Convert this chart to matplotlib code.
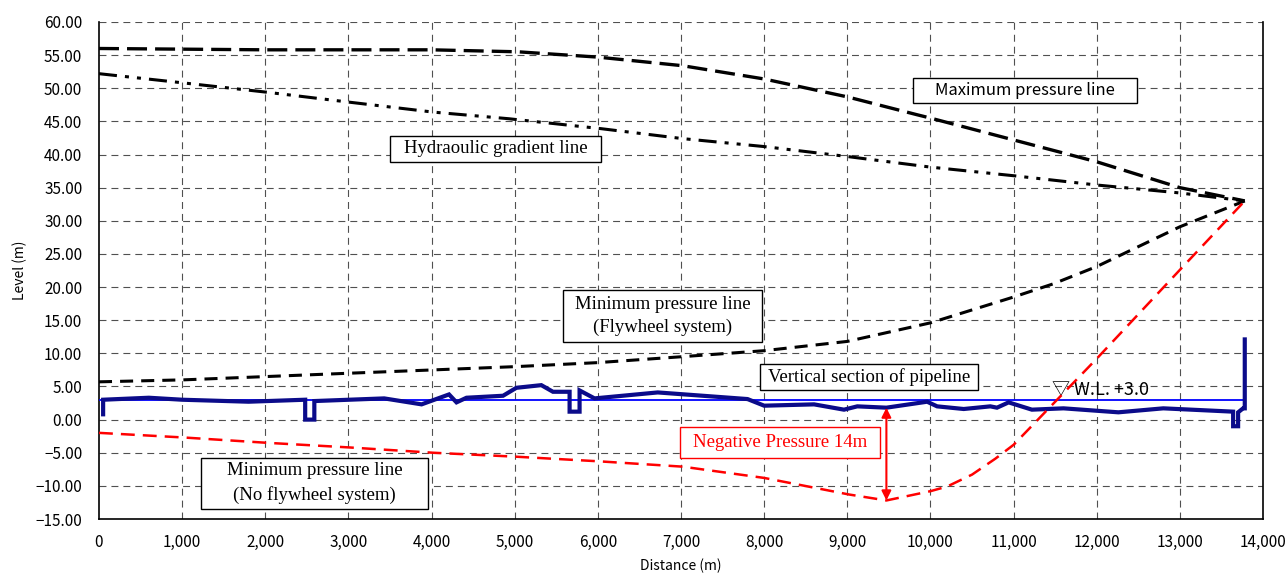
import matplotlib
matplotlib.use("Agg")
import matplotlib.pyplot as plt
from matplotlib.patches import Rectangle

plt.rcParams["lines.scale_dashes"] = False

# ---- data ----
max_x = [0, 1000, 2000, 3000, 4000, 5040, 6000, 7020, 8000, 9000, 9840, 10000, 11000, 12000, 13000, 13780]
max_y = [56.0, 55.9, 55.8, 55.8, 55.8, 55.5, 54.7, 53.4, 51.4, 48.7, 46.0, 45.5, 42.2, 38.9, 35.0, 33.0]

hgl_x = [0, 1020, 2020, 3010, 4020, 4930, 6040, 7020, 8000, 9000, 10000, 11000, 12000, 13000, 13780]
hgl_y = [52.2, 50.8, 49.4, 47.9, 46.4, 45.4, 43.9, 42.4, 41.2, 39.7, 38.1, 36.8, 35.4, 34.2, 33.0]

fly_x = [0, 1020, 2020, 3010, 4020, 5020, 6000, 7020, 8000, 9000, 10000, 11000, 11480, 12000, 13000, 13780]
fly_y = [5.7, 6.0, 6.5, 7.0, 7.5, 8.0, 8.6, 9.5, 10.4, 11.8, 14.6, 18.5, 20.5, 23.1, 29.1, 33.0]

nofly_x = [0, 1020, 2020, 3010, 4020, 5020, 6020, 7020, 8000, 9020, 9470, 10000, 10200, 10500, 10780, 11000, 12000, 13000, 13780]
nofly_y = [-2.0, -2.7, -3.5, -4.2, -5.0, -5.6, -6.3, -7.1, -8.8, -11.3, -12.2, -10.8, -10.1, -8.3, -5.9, -3.8, 9.2, 22.6, 33.0]

pipe_x = [50, 50, 600, 1000, 1800, 2480, 2480, 2590, 2590, 3430, 3880, 4210, 4300, 4420, 4860, 5020,
          5320, 5460, 5660, 5660, 5780, 5780, 5960, 6720, 7800, 8000, 8600, 8960, 9120, 9470, 9960,
          10080, 10400, 10720, 10800, 10940, 11220, 11600, 12260, 12800, 13640, 13640, 13700, 13700,
          13760, 13780, 13780]
pipe_y = [0.8, 3.0, 3.3, 3.0, 2.7, 3.0, 0.0, 0.0, 2.8, 3.2, 2.3, 3.8, 2.6, 3.3, 3.6, 4.8,
          5.2, 4.2, 4.2, 1.2, 1.2, 4.4, 3.2, 4.1, 3.1, 2.1, 2.3, 1.5, 2.0, 1.8, 2.7,
          2.0, 1.6, 2.0, 1.8, 2.6, 1.5, 1.7, 1.1, 1.7, 1.2, -1.0, -1.0, 1.1,
          1.7, 1.7, 12.1]

wl_x = [0, 13780]
wl_y = [3.0, 3.0]

neg_x = 9470
neg_top = 1.8
neg_bottom = -12.2

x_ticks = list(range(0, 14001, 1000))
y_ticks = [v * 5 for v in range(-3, 13)]

sans = ["Noto Sans CJK JP", "DejaVu Sans"]
serif = "Liberation Serif"

fig = plt.figure(figsize=(12.87, 5.74), dpi=100)
ax = fig.add_axes([0.0769, 0.0958, 0.9045, 0.8659])

ax.set_xlim(0, 14000)
ax.set_ylim(-15, 60)
ax.set_xticks(x_ticks)
ax.set_yticks(y_ticks)
ax.set_xticklabels([f"{v:,}" for v in x_ticks], fontfamily=sans, fontsize=11)
ax.set_yticklabels([f"{v:.2f}".replace("-", "\u2212") for v in y_ticks], fontfamily=sans, fontsize=11)
ax.tick_params(length=0, pad=12)
ax.tick_params(axis="x", pad=11)

# dashed grid
for xv in x_ticks[1:-1]:
    ax.axvline(xv, color="#505050", lw=0.8, ls=(0, (5, 3.6)), zorder=1)
for yv in y_ticks[1:]:
    ax.axhline(yv, color="#505050", lw=0.8, ls=(0, (5, 3.6)), zorder=1)

ax.spines["top"].set_visible(False)
for s in ("left", "bottom", "right"):
    ax.spines[s].set_linewidth(1.2)

# curves
ax.plot(max_x, max_y, color="black", lw=2.4, ls=(0, (14.4, 5.8)), zorder=4)
ax.plot(hgl_x, hgl_y, color="black", lw=2.2, ls=(0, (13, 5.8, 2.9, 5.8, 2.9, 5.8)), zorder=4)
ax.plot(fly_x, fly_y, color="black", lw=2.2, ls=(0, (9.4, 5.8)), zorder=4)
ax.plot(wl_x, wl_y, color="#0000FF", lw=1.3, zorder=3)
ax.plot(pipe_x, pipe_y, color="#0B0B8A", lw=3.0, zorder=5, solid_joinstyle="miter")
ax.plot(nofly_x, nofly_y, color="#FF0000", lw=1.8, ls=(0, (10, 5.8)), zorder=6)

# negative pressure arrow
ax.annotate("", xy=(neg_x, neg_bottom), xytext=(neg_x, neg_top),
            arrowprops=dict(arrowstyle="<|-|>", color="#FF0000", lw=1.5,
                            mutation_scale=14, shrinkA=0, shrinkB=0), zorder=7)


def boxed(x0, x1, y0, y1, text, family, size, color="black"):
    ax.add_patch(Rectangle((x0, y0), x1 - x0, y1 - y0, fc="white", ec=color,
                           lw=1.0, zorder=8))
    ax.text((x0 + x1) / 2, (y0 + y1) / 2, text, fontfamily=family, fontsize=size,
            color=color, ha="center", va="center", linespacing=1.45, zorder=9)


boxed(9791, 12485, 47.8, 51.55, "Maximum pressure line", sans, 12)
boxed(3500, 6038, 38.9, 42.8, "Hydraoulic gradient line", serif, 13.5)
boxed(5581, 7975, 11.76, 19.6, "Minimum pressure line\n(Flywheel system)", serif, 13.5)
boxed(7951, 10573, 4.52, 8.44, "Vertical section of pipeline", serif, 13.5)
boxed(1227, 3957, -13.42, -5.73, "Minimum pressure line\n(No flywheel system)", serif, 13.5)
boxed(6988, 9394, -5.73, -1.06, "Negative Pressure 14m", serif, 13.5, color="#FF0000")

ax.text(11460, 4.4, "\u25bd W.L. +3.0", fontfamily=sans, fontsize=13,
        ha="left", va="center", zorder=4)

ax.set_xlabel("Distance (m)", fontfamily=sans, fontsize=10, labelpad=5)
ax.set_ylabel("Level (m)", fontfamily=sans, fontsize=10, labelpad=6)

fig.savefig("out.png", dpi=100)
